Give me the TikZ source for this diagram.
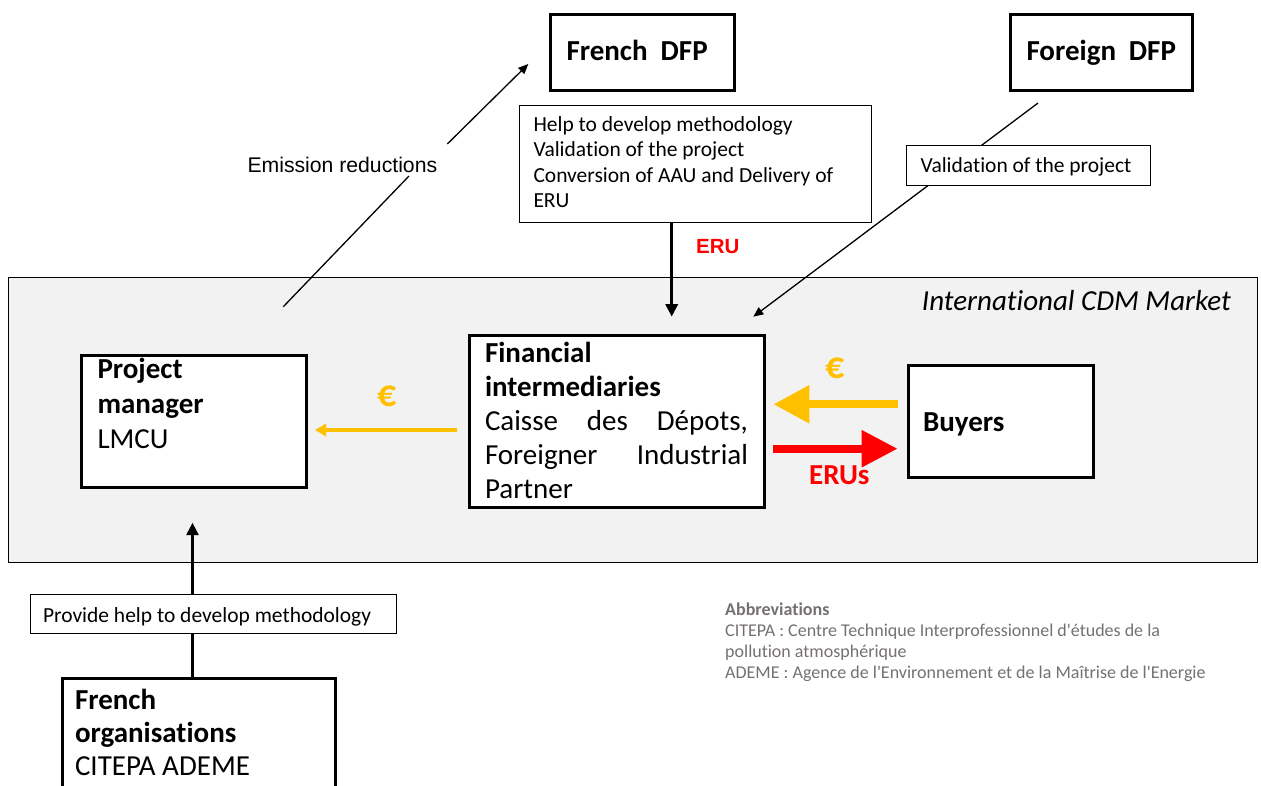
\documentclass[tikz,border=0pt]{standalone}
\usepackage{fontspec}
\setmainfont{Carlito}[Ligatures={NoCommon,NoContextual,NoRequired}, Contextuals=NoAlternate]
\newfontfamily\arialf{Liberation Sans}
\usetikzlibrary{arrows.meta}
\definecolor{euroyellow}{HTML}{FFC000}
\definecolor{erured}{HTML}{FF0000}
\definecolor{panelgray}{HTML}{F2F2F2}
\definecolor{abbrgray}{HTML}{767171}
\newcommand\bxc[4]{\parbox[c][#2pt][t]{#1pt}{\raggedright\rule{0pt}{#3pt}#4}}
\newcommand\bxj[4]{\parbox[c][#2pt][t]{#1pt}{\tolerance=10000\hyphenpenalty=10000\exhyphenpenalty=10000\rule{0pt}{#3pt}#4}}
\newcommand\nt{t\kern0pt i}
\tikzset{
  thickbox/.style={draw, line width=3pt, fill=white, inner ysep=0pt, anchor=north west, font=\fontsize{29}{34.5}\selectfont},
  thinbox/.style={draw, line width=1pt, fill=white, inner ysep=0pt, anchor=north west, font=\fontsize{21.5}{25.5}\selectfont},
  thinarrow/.style={line width=1.3pt, -{Triangle[length=10pt,width=8.5pt]}},
  blackarrow/.style={line width=3pt, -{Triangle[length=12.5pt,width=12pt]}},
  lbl/.style={inner sep=0pt},
}
\begin{document}
\begin{tikzpicture}[x=1pt,y=-1pt]
\useasboundingbox[fill=white] (0,0) rectangle (1261,785);
% panel
\draw[fill=panelgray, line width=0.8pt] (8.5,277) rectangle (1257.7,562.5);
\node[lbl, anchor=base east, font=\fontsize{29}{34}\selectfont\itshape] (cdm) at (1231,310) {Interna\nt onal CDM Market};

% coordinates for free arrow ends
\coordinate (emA) at (283.3,306.7);
\coordinate (emB) at (409,176);
\coordinate (emC) at (447.3,144);
\coordinate (emD) at (528.3,64);
\coordinate (forS) at (1038,103);
\coordinate (forT) at (753.3,316.7);
\coordinate (eruT) at (671.7,316.7);
\coordinate (yS) at (456.7,430);
\coordinate (yT) at (315,430);
\coordinate (byS) at (897.7,404.3);
\coordinate (byT) at (773.3,404.3);
\coordinate (brS) at (773.3,448.7);
\coordinate (brT) at (897.7,448.7);
\coordinate (upT) at (192.5,522.7);

% arrows behind boxes
\draw[thinarrow] (forS) -- (forT);
\draw[line width=1.3pt] (emA) -- (emB);
\draw[thinarrow] (emC) -- (emD);

% boxes
\node[thickbox, inner xsep=16.5pt] (fdfp) at (548.5,13) {\bxc{151}{76}{46}{\textbf{French~~DFP}}};
\node[thickbox, inner xsep=16.5pt] (odfp) at (1008.5,13) {\bxc{149.5}{76}{46}{\textbf{Foreign~~DFP}}};
\node[thinbox, inner xsep=14.5pt] (help) at (518.5,104.5) {\bxc{323.5}{117}{26.2}{Help to develop methodology\\Valida\nt on of the project\\Conversion of AAU and Delivery of\\ERU}};
\node[thinbox, inner xsep=14pt] (valid) at (906,144.8) {\bxc{216.3}{40.2}{26.9}{Valida\nt on of the project}};

\draw[blackarrow] (eruT |- help.south) -- (eruT);
\node[lbl, anchor=base west, font=\arialf\bfseries\fontsize{20.5}{24}\selectfont, text=erured] (erul) at (696,253.3) {ERU};

\draw[blackarrow] (192.5,676.5) -- (upT);

\node[thickbox, inner xsep=16pt] (pm) at (80,354) {\parbox[c][132pt][t]{192.5pt}{\fontsize{29}{35}\selectfont\raggedright\rule{0pt}{23.3pt}\textbf{Project}\\\textbf{manager}\\LMCU}};
\node[thickbox, inner xsep=16pt] (fin) at (467.5,334) {\bxj{263}{172}{27}{\fontsize{29}{34}\selectfont\textbf{Financial}\\\textbf{intermediaries}\\Caisse des Dépots,\linebreak Foreigner Industrial\linebreak Partner}};
\node[thickbox, inner xsep=15pt] (buy) at (906.5,363.5) {\bxc{155.5}{112}{66.5}{\textbf{Buyers}}};
\node[thinbox, inner xsep=13pt] (prov) at (29.5,593.5) {\bxc{340.5}{39.5}{28}{Provide help to develop methodology}};
\node[thickbox, inner xsep=13pt] (forg) at (60.5,676.5) {\parbox[c][115pt][t]{247pt}{\fontsize{29}{33}\selectfont\raggedright\rule{0pt}{31.8pt}\textbf{French}\\\textbf{organisa\nt ons}\\CITEPA ADEME}};

% flows
\draw[line width=4pt, euroyellow, -{Triangle[length=11pt,width=12pt]}] (yS) -- (yT);
\node[lbl, font=\bfseries\fontsize{38}{40}\selectfont, text=euroyellow] (eur1) at (386.7,396.7) {€};
\draw[line width=8.3pt, euroyellow, -{Triangle[length=36pt,width=36pt]}] (byS) -- (byT);
\node[lbl, font=\bfseries\fontsize{38}{40}\selectfont, text=euroyellow] (eur2) at (835,368.3) {€};
\draw[line width=8.3pt, erured, -{Triangle[length=36pt,width=35pt]}] (brS) -- (brT);
\node[lbl, anchor=base west, font=\bfseries\fontsize{29}{34}\selectfont, text=erured] (erus) at (809,484) {ERUs};

% emission label
\node[lbl, anchor=base west, font=\arialf\fontsize{21.2}{25}\selectfont] (eml) at (247.3,172.7) {Emission reductions};

% abbreviations
\node[lbl, anchor=base west, text=abbrgray] (abbr) at (725,615) {\parbox[t]{540pt}{\fontsize{18}{21.2}\selectfont\raggedright\textbf{Abbrevia\nt ons}\\CITEPA : Centre Technique Interprofessionnel d\textquotesingle études de la\\pollu\nt on atmosphérique\\ADEME : Agence de l\textquotesingle Environnement et de la Maîtrise de l\textquotesingle Energie}};
\end{tikzpicture}
\end{document}
